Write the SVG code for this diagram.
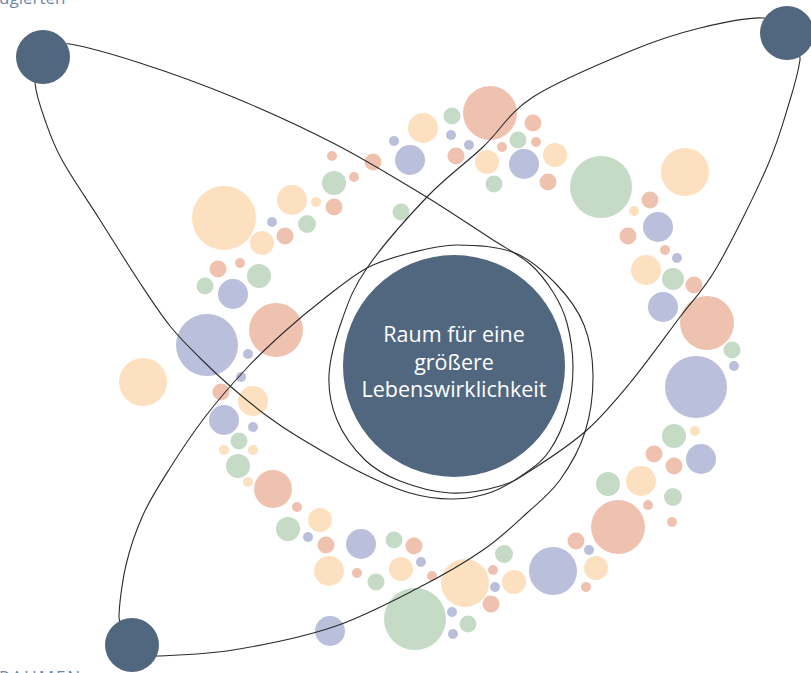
<svg xmlns="http://www.w3.org/2000/svg" width="811" height="673" viewBox="0 0 811 673">
<style>
.p{fill:#fde0bf}.s{fill:#efc2b0}.g{fill:#c5dbc6}.l{fill:#babfdc}
.orbit{fill:none;stroke:#2b2b2b;stroke-width:1.1}
.node{fill:#51677f}
.cap{font-family:"Open Sans","Liberation Sans",sans-serif;fill:#6b87a6}
.ct{font-family:"Open Sans","Liberation Sans",sans-serif;font-size:21.5px;fill:#ffffff;text-anchor:middle}
</style>
<rect width="811" height="673" fill="#ffffff"/>
<text class="cap" x="-1" y="4" font-size="17">ugierten</text>
<text class="cap" x="-1" y="682.5" font-size="17" letter-spacing="2">RAUMEN</text>
<g id="bubbles">
<g class="p">
<circle cx="224" cy="218" r="32"/><circle cx="262" cy="243" r="12"/><circle cx="292" cy="200" r="15"/><circle cx="316" cy="202" r="5"/><circle cx="423" cy="128" r="15"/><circle cx="487" cy="162" r="12"/><circle cx="555" cy="155" r="12"/><circle cx="685" cy="172" r="24"/><circle cx="634" cy="211" r="5"/><circle cx="646" cy="270" r="15"/><circle cx="695" cy="431" r="5"/><circle cx="641" cy="481" r="15"/><circle cx="596" cy="568" r="12"/><circle cx="514" cy="582" r="12"/><circle cx="465" cy="583" r="24"/><circle cx="401" cy="569" r="12"/><circle cx="329" cy="571" r="15"/><circle cx="320" cy="520" r="12"/><circle cx="248" cy="482" r="5"/><circle cx="224" cy="450" r="5"/><circle cx="253" cy="450" r="5"/><circle cx="253" cy="401" r="15"/><circle cx="143" cy="382" r="24"/>
</g>
<g class="s">
<circle cx="285" cy="236" r="8.5"/><circle cx="334" cy="207" r="8.5"/><circle cx="332" cy="156" r="5"/><circle cx="354" cy="177" r="5"/><circle cx="373" cy="162" r="8.5"/><circle cx="218" cy="269" r="8.5"/><circle cx="240" cy="263" r="5"/><circle cx="276" cy="330" r="27"/><circle cx="490" cy="113" r="27"/><circle cx="456" cy="156" r="8.5"/><circle cx="502" cy="147" r="5"/><circle cx="533" cy="123" r="8.5"/><circle cx="536" cy="142" r="5"/><circle cx="548" cy="182" r="8.5"/><circle cx="650" cy="200" r="8.5"/><circle cx="628" cy="236" r="8.5"/><circle cx="665" cy="250" r="5"/><circle cx="694" cy="285" r="8.5"/><circle cx="707" cy="323" r="27"/><circle cx="654" cy="454" r="8.5"/><circle cx="674" cy="466" r="8.5"/><circle cx="648" cy="505" r="5"/><circle cx="672" cy="522" r="5"/><circle cx="618" cy="527" r="27"/><circle cx="576" cy="541" r="8.5"/><circle cx="586" cy="587" r="5"/><circle cx="493" cy="570" r="5"/><circle cx="491" cy="604" r="8.5"/><circle cx="414" cy="546" r="8.5"/><circle cx="432" cy="576" r="5"/><circle cx="357" cy="573" r="5"/><circle cx="326" cy="545" r="8.5"/><circle cx="297" cy="507" r="5"/><circle cx="273" cy="489" r="19"/><circle cx="221" cy="392" r="8.5"/>
</g>
<g class="g">
<circle cx="307" cy="224" r="9"/><circle cx="334" cy="183" r="12"/><circle cx="401" cy="212" r="8.5"/><circle cx="259" cy="276" r="12"/><circle cx="205" cy="286" r="8.5"/><circle cx="452" cy="116" r="8.5"/><circle cx="518" cy="140" r="8.5"/><circle cx="494" cy="184" r="8.5"/><circle cx="601" cy="187" r="31"/><circle cx="673" cy="279" r="11"/><circle cx="732" cy="350" r="8.5"/><circle cx="674" cy="436" r="12"/><circle cx="608" cy="484" r="12"/><circle cx="673" cy="497" r="9"/><circle cx="504" cy="554" r="9"/><circle cx="468" cy="624" r="8.5"/><circle cx="415" cy="619" r="31"/><circle cx="394" cy="540" r="8.5"/><circle cx="376" cy="582" r="8.5"/><circle cx="288" cy="529" r="12"/><circle cx="238" cy="466" r="12"/><circle cx="239" cy="441" r="8.5"/>
</g>
<g class="l">
<circle cx="272" cy="222" r="5"/><circle cx="394" cy="141" r="5"/><circle cx="410" cy="160" r="15"/><circle cx="233" cy="294" r="15"/><circle cx="207" cy="345" r="31"/><circle cx="451" cy="135" r="5"/><circle cx="469" cy="145" r="5"/><circle cx="524" cy="164" r="15"/><circle cx="658" cy="227" r="15"/><circle cx="677" cy="258" r="5"/><circle cx="663" cy="307" r="15"/><circle cx="734" cy="366" r="5"/><circle cx="696" cy="387" r="31"/><circle cx="701" cy="459" r="15"/><circle cx="589" cy="550" r="5"/><circle cx="553" cy="571" r="24"/><circle cx="495" cy="587" r="5"/><circle cx="452" cy="612" r="5"/><circle cx="453" cy="634" r="5"/><circle cx="421" cy="562" r="5"/><circle cx="361" cy="544" r="15"/><circle cx="308" cy="537" r="5"/><circle cx="330" cy="631" r="15"/><circle cx="248" cy="354" r="5"/><circle cx="241" cy="377" r="5"/><circle cx="224" cy="420" r="15"/><circle cx="253" cy="427" r="5"/>
</g>
</g>
<g id="connectors">
<path id="orbit-a" class="orbit" d="M70,44 C87,47 112.8,54.2 140,63 C167.2,71.8 200.8,83.7 233,97 C265.2,110.3 301.8,127 333,143 C364.2,159 393.8,177.2 420,193 C446.2,208.8 471.7,226.2 490,238 C508.3,249.8 519.5,255 530,264 C540.5,273 546.8,282.2 553,292 C559.2,301.8 563.7,310.5 567,323 C570.3,335.5 573,352.2 573,367 C573,381.8 570.8,398.2 567,412 C563.2,425.8 556.7,440 550,450 C543.3,460 536.7,465 527,472 C517.3,479 504.3,487.5 492,492 C479.7,496.5 466.7,498.8 453,499 C439.3,499.2 425.5,497.5 410,493 C394.5,488.5 378.3,481.2 360,472 C341.7,462.8 315.5,447.3 300,438 C284.5,428.7 278.7,424.7 267,416 C255.3,407.3 241.2,395.7 230,386 C218.8,376.3 210,368 200,358 C190,348 180,338.5 170,326 C160,313.5 151.7,300.7 140,283 C128.3,265.3 113,240.5 100,220 C87,199.5 71.2,176.7 62,160 C52.8,143.3 49.5,132.8 45,120 C40.5,107.2 36.2,95.5 35,83 C33.8,70.5 53,41 70,44 Z"/>
<path id="orbit-b" class="orbit" d="M763,18 C748,17.2 721.7,22.7 700,28 C678.3,33.3 660.8,38.5 633,50 C605.2,61.5 558,80.8 533,97 C508,113.2 500.7,130.3 483,147 C465.3,163.7 446.3,176.8 427,197 C407.7,217.2 381.2,247.5 367,268 C352.8,288.5 348.3,302.2 342,320 C335.7,337.8 329.8,358.3 329,375 C328.2,391.7 331,405.8 337,420 C343,434.2 354.5,449.8 365,460 C375.5,470.2 385.8,475.5 400,481 C414.2,486.5 433.3,492.2 450,493 C466.7,493.8 486.2,490 500,486 C513.8,482 518.5,478.3 533,469 C547.5,459.7 570.8,444.3 587,430 C603.2,415.7 614.5,401.8 630,383 C645.5,364.2 665.5,336.3 680,317 C694.5,297.7 702.5,292 717,267 C731.5,242 754.8,194.8 767,167 C779.2,139.2 784.5,117.8 790,100 C795.5,82.2 798.5,70 800,60 C801.5,50 778,18.8 763,18 Z"/>
<path id="orbit-c" class="orbit" d="M157,656 C177,655 203.7,654.8 233,650 C262.3,645.2 301.8,637.5 333,627 C364.2,616.5 395,599.8 420,587 C445,574.2 465.2,562.3 483,550 C500.8,537.7 514.2,524.7 527,513 C539.8,501.3 550.3,493.5 560,480 C569.7,466.5 579.5,449.5 585,432 C590.5,414.5 593.2,392.8 593,375 C592.8,357.2 590,340 584,325 C578,310 568.5,297 557,285 C545.5,273 531.7,259.7 515,253 C498.3,246.3 474.5,245 457,245 C439.5,245 425,249.2 410,253 C395,256.8 381.2,260.5 367,268 C352.8,275.5 339,287.2 325,298 C311,308.8 296.3,321 283,333 C269.7,345 258,356 245,370 C232,384 217.5,400.7 205,417 C192.5,433.3 180.3,451.7 170,468 C159.7,484.3 150.3,498.8 143,515 C135.7,531.2 130,548 126,565 C122,582 119,607 119,617 C119,627 137,657 157,656 Z"/>
</g>
<g id="node-top-left"><circle class="node" cx="43" cy="57" r="27"/></g>
<g id="node-top-right"><circle class="node" cx="787" cy="33" r="27"/></g>
<g id="node-bottom-left"><circle class="node" cx="132" cy="645" r="27"/></g>
<g id="node-center">
<circle class="node" cx="454" cy="366" r="111"/>
<text class="ct" x="454" y="342">Raum für eine</text>
<text class="ct" x="454" y="369.5">größere</text>
<text class="ct" x="454" y="397">Lebenswirklichkeit</text>
</g>
</svg>
